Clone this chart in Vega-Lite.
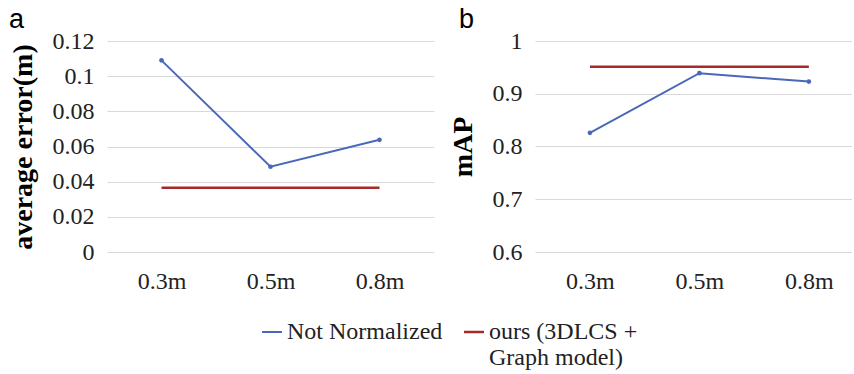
{
  "$schema": "https://vega.github.io/schema/vega-lite/v6.json",
  "padding": {"left": 9, "top": 6, "right": 0, "bottom": 5},
  "datasets": {
    "err": [
      {"dist": "0.3m", "series": "Not Normalized", "value": 0.109},
      {"dist": "0.5m", "series": "Not Normalized", "value": 0.0485},
      {"dist": "0.8m", "series": "Not Normalized", "value": 0.0638},
      {"dist": "0.3m", "series": "ours (3DLCS + Graph model)", "value": 0.0365},
      {"dist": "0.5m", "series": "ours (3DLCS + Graph model)", "value": 0.0365},
      {"dist": "0.8m", "series": "ours (3DLCS + Graph model)", "value": 0.0365}
    ],
    "map": [
      {"dist": "0.3m", "series": "Not Normalized", "value": 0.826},
      {"dist": "0.5m", "series": "Not Normalized", "value": 0.939},
      {"dist": "0.8m", "series": "Not Normalized", "value": 0.923},
      {"dist": "0.3m", "series": "ours (3DLCS + Graph model)", "value": 0.951},
      {"dist": "0.5m", "series": "ours (3DLCS + Graph model)", "value": 0.951},
      {"dist": "0.8m", "series": "ours (3DLCS + Graph model)", "value": 0.951}
    ]
  },
  "hconcat": [
    {
      "title": {"text": "a", "anchor": "start", "frame": "bounds", "dx": 0},
      "width": 327,
      "height": 211,
      "data": {"name": "err"},
      "mark": {"type": "line", "point": {"filled": true, "size": 22}},
      "encoding": {
        "x": {"field": "dist", "type": "ordinal", "scale": {"type": "point", "padding": 0.5}, "axis": {"title": null}},
        "y": {"field": "value", "type": "quantitative", "scale": {"domain": [0, 0.12]}, "axis": {"values": [0, 0.02, 0.04, 0.06, 0.08, 0.1, 0.12], "labelExpr": "format(datum.value, '~g')", "title": "average error(m)"}},
        "color": {"field": "series", "type": "nominal", "scale": {"domain": ["Not Normalized", "ours (3DLCS + Graph model)"], "range": ["#4A68BA", "#A52A2A"]}, "legend": {"title": null, "orient": "none", "legendX": 153, "legendY": 279, "direction": "horizontal", "symbolType": "stroke", "labelBaseline": "middle", "labelFont": "serif", "labelFontSize": 24, "labelLimit": 400, "columnPadding": 16, "labelExpr": "datum.label == 'ours (3DLCS + Graph model)' ? ['ours (3DLCS +', 'Graph model)'] : [datum.label, ' ']"}},
        "strokeWidth": {"field": "series", "type": "nominal", "scale": {"domain": ["Not Normalized", "ours (3DLCS + Graph model)"], "range": [2, 2.5]}, "legend": null},
        "fillOpacity": {"field": "series", "type": "nominal", "scale": {"domain": ["Not Normalized", "ours (3DLCS + Graph model)"], "range": [1, 0]}, "legend": null}
      }
    },
    {
      "title": {"text": "b", "anchor": "start", "frame": "bounds", "dx": 10},
      "width": 317,
      "height": 211,
      "data": {"name": "map"},
      "mark": {"type": "line", "point": {"filled": true, "size": 22}},
      "encoding": {
        "x": {"field": "dist", "type": "ordinal", "scale": {"type": "point", "padding": 0.448, "align": 0.56}, "axis": {"title": null}},
        "y": {"field": "value", "type": "quantitative", "scale": {"domain": [0.6, 1]}, "axis": {"values": [0.6, 0.7, 0.8, 0.9, 1], "labelExpr": "format(datum.value, '~g')", "title": "mAP"}},
        "color": {"field": "series", "type": "nominal", "scale": {"domain": ["Not Normalized", "ours (3DLCS + Graph model)"], "range": ["#4A68BA", "#A52A2A"]}, "legend": null},
        "strokeWidth": {"field": "series", "type": "nominal", "scale": {"domain": ["Not Normalized", "ours (3DLCS + Graph model)"], "range": [2, 2.5]}, "legend": null},
        "fillOpacity": {"field": "series", "type": "nominal", "scale": {"domain": ["Not Normalized", "ours (3DLCS + Graph model)"], "range": [1, 0]}, "legend": null}
      }
    }
  ],
  "resolve": {"scale": {"x": "independent", "y": "independent"}},
  "config": {
    "view": {"stroke": null},
    "concat": {"spacing": 15},
    "title": {"font": "Liberation Sans", "fontSize": 27, "fontWeight": "normal", "color": "#000000", "offset": -5, "baseline": "top"},
    "axis": {
      "domain": false,
      "ticks": false,
      "labelFont": "serif",
      "labelFontSize": 24,
      "labelColor": "#222222",
      "labelOverlap": false,
      "titleFont": "Liberation Serif",
      "titleFontSize": 28,
      "titleFontWeight": "bold",
      "titleColor": "#000000",
      "gridColor": "#D9D9D9",
      "gridWidth": 1
    },
    "axisY": {"labelPadding": 13, "titlePadding": 15, "grid": true},
    "axisX": {"labelPadding": 17, "grid": false, "labelAngle": 0},
    "legend": {
      "symbolSize": 400,
      "symbolStrokeWidth": 2.5,
      "labelColor": "#222222",
      "labelOffset": 3
    }
  }
}
